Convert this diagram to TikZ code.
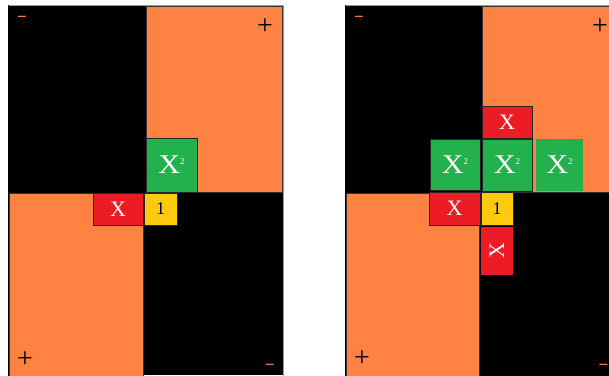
\documentclass[tikz,border=0pt]{standalone}
\usepackage{fontspec}
\setmainfont{Liberation Serif}
\definecolor{qorange}{HTML}{FE8242}
\definecolor{qgreen}{HTML}{22B14C}
\definecolor{qred}{HTML}{ED1C24}
\definecolor{qyellow}{HTML}{FFC90E}
\definecolor{qgray}{HTML}{9A9A9A}
\newcommand{\sqx}{\scalebox{1.12}[1]{X}\raisebox{9pt}{\fontsize{9}{9}\selectfont 2}}
\begin{document}
\begin{tikzpicture}[x=1pt,y=-1pt,
  tile/.style={draw=black!85,line width=0.9pt,inner sep=0pt,outer sep=0pt},
  quad/.style={line width=0.8pt},
  greenbox/.style={tile,fill=qgreen,text=white,font=\fontsize{27}{27}\selectfont},
  redbox/.style={tile,fill=qred,text=white,font=\fontsize{22}{22}\selectfont},
  yellowbox/.style={tile,fill=qyellow,text=black,font=\fontsize{18}{18}\selectfont},
  plussign/.style={inner sep=0pt,text=black,font=\fontsize{28}{28}\selectfont},
  minussign/.style={inner sep=0pt,text=qorange,font=\bfseries\fontsize{17}{17}\selectfont}]
\useasboundingbox (0,0) rectangle (609,375);
\clip (0,0) rectangle (609,375);
\fill[white] (0,0) rectangle (609,375);
% ---------- left panel ----------
\fill[black] (8,5) rectangle (146,193);
\fill[black] (143,192) rectangle (283,375);
\draw[quad,fill=qorange,draw=black!80] (146,6) rectangle (282,192);
\draw[quad,fill=qorange,draw=black!80] (9,193) rectangle (143,376);
\draw[qgray,line width=1pt] (8,5) -- (283,5) -- (283,376);
\draw[black,line width=1pt] (8,5) -- (8,376);
\node[greenbox,minimum width=51pt,minimum height=54pt] (g1) at (171.5,165) {\sqx};
\node[redbox,minimum width=50pt,minimum height=32pt] (r1) at (118,209) {X};
\node[yellowbox,minimum width=33pt,minimum height=32pt] (y1) at (160.5,209) {1};
\node[minussign] (m1) at (22,19) {−};
\node[plussign] (p1) at (265,27) {+};
\node[plussign] (p2) at (25,360) {+};
\node[minussign] (m2) at (270,367) {−};
% ---------- right panel ----------
\fill[black] (345,5) rectangle (482,193);
\fill[black] (479,192) rectangle (615,376);
\draw[quad,fill=qorange,draw=black!80] (482,6) rectangle (615,192);
\draw[quad,fill=qorange,draw=black!80] (346,193) rectangle (479,376);
\draw[qgray,line width=1pt] (345,5) -- (615,5);
\draw[black,line width=1pt] (345,5) -- (345,376);
\node[redbox,minimum width=50pt,minimum height=32pt] (r2) at (507,122) {X};
\node[greenbox,minimum width=50pt,minimum height=51pt] (g2) at (455,164.5) {\sqx};
\node[greenbox,minimum width=50pt,minimum height=52pt] (g3) at (507,165) {\sqx};
\node[greenbox,draw=none,minimum width=47pt,minimum height=52pt] (g4) at (559.5,165) {\sqx};
\node[redbox,minimum width=51pt,minimum height=33pt] (r3) at (454.5,208.5) {X};
\node[yellowbox,minimum width=32pt,minimum height=33pt] (y2) at (497,208.5) {1};
\node[redbox,draw=none,minimum width=32pt,minimum height=48pt] (r4) at (497,251) {\rotatebox{90}{X}};
\node[minussign] (m3) at (359,19) {−};
\node[plussign] (p3) at (600,27) {+};
\node[plussign] (p4) at (362,359) {+};
\node[minussign] (m4) at (603.5,367) {−};
\end{tikzpicture}
\end{document}
